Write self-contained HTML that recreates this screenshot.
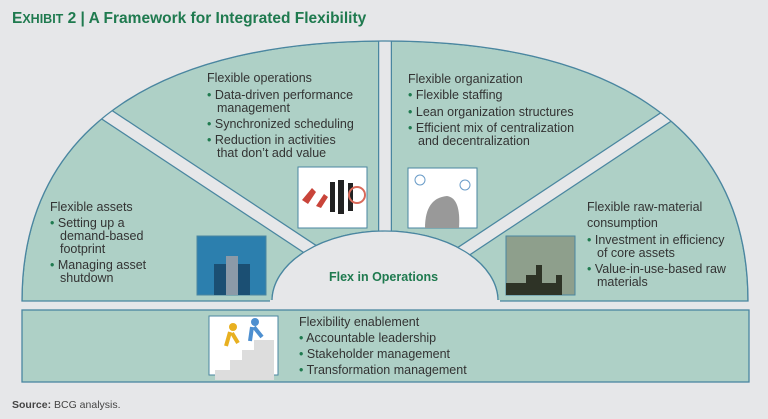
<!DOCTYPE html>
<html><head><meta charset="utf-8"><style>
html,body{margin:0;padding:0;background:#e6e7e9;}
body{width:768px;height:419px;overflow:hidden;position:relative;font-family:"Liberation Sans",sans-serif;}
svg{position:absolute;left:0;top:0;}
.t{font-family:"Liberation Sans",sans-serif;font-size:12.5px;fill:#333;}
.b{fill:#1f7a4f;}
</style></head><body>
<svg width="768" height="419" viewBox="0 0 768 419">
<defs><clipPath id="c"><rect x="0" y="0" width="768" height="301"/></clipPath></defs>
<path d="M22,301 C22,120 170,41 385,41 C600,41 748,120 748,301 L498,301 A113,70 0 0 0 272,301 Z" fill="#aed0c6" stroke="#4a86a0" stroke-width="1.3"/>
<g clip-path="url(#c)" stroke-linecap="butt">
<line x1="385" y1="20" x2="385" y2="250" stroke="#4a86a0" stroke-width="14"/>
<line x1="385" y1="20" x2="385" y2="250" stroke="#e6e7e9" stroke-width="11.5"/>
<line x1="80" y1="97" x2="322" y2="257" stroke="#4a86a0" stroke-width="14"/>
<line x1="80" y1="97" x2="322" y2="257" stroke="#e6e7e9" stroke-width="11.5"/>
<line x1="690" y1="101" x2="452" y2="259" stroke="#4a86a0" stroke-width="14"/>
<line x1="690" y1="101" x2="452" y2="259" stroke="#e6e7e9" stroke-width="11.5"/>
</g>
<path d="M0,0 H768 V301 H748 C748,120 600,41 385,41 C170,41 22,120 22,301 H0 Z" fill="#e6e7e9"/>
<path d="M22,301 C22,120 170,41 385,41 C600,41 748,120 748,301" fill="none" stroke="#4a86a0" stroke-width="1.3"/>
<path d="M498,301 A113,70 0 0 0 272,301 Z" fill="#e6e7e9" stroke="#4a86a0" stroke-width="1.3"/>
<line x1="270" y1="301" x2="500" y2="301" stroke="#e6e7e9" stroke-width="2"/>
<rect x="22" y="310" width="727" height="72" fill="#aed0c6" stroke="#4a86a0" stroke-width="1.3"/>

<rect x="298" y="167" width="69" height="61" fill="#fff" stroke="#4a86a0"/>
<path d="M302,200 l10,-12 l4,4 l-8,12z M316,206 l8,-12 l4,3 l-7,11z" fill="#c9443a"/>
<rect x="330" y="182" width="5" height="30" fill="#222"/><rect x="338" y="180" width="6" height="34" fill="#222"/><rect x="348" y="183" width="5" height="28" fill="#222"/>
<circle cx="357" cy="195" r="8" fill="none" stroke="#d96a5a" stroke-width="2"/>
<rect x="408" y="168" width="69" height="60" fill="#fff" stroke="#4a86a0"/>
<path d="M425,228 q0,-30 22,-32 q14,2 12,32z" fill="#999"/><circle cx="420" cy="180" r="5" fill="none" stroke="#6a9cc8"/><circle cx="465" cy="185" r="5" fill="none" stroke="#6a9cc8"/>
<rect x="197" y="236" width="69" height="59" fill="#2c7fae" stroke="#4a86a0"/>
<rect x="214" y="264" width="36" height="31" fill="#1b4f73"/><rect x="226" y="256" width="12" height="39" fill="#8b9aa8"/>
<rect x="506" y="236" width="69" height="59" fill="#8e9f8c" stroke="#4a86a0"/>
<path d="M506,295 v-12 h20 v-8 h10 v-10 h6 v18 h14 v-8 h6 v20z" fill="#2e3326"/>
<rect x="209" y="316" width="69" height="59" fill="#fff" stroke="#4a86a0"/>
<path d="M215,370 h15 v-10 h12 v-10 h12 v-10 h20 v40 h-59z" fill="#ddd"/>
<circle cx="233" cy="327" r="4" fill="#e8b020"/><path d="M230,332 l-4,14 M232,333 l6,10" stroke="#e8b020" stroke-width="4"/>
<circle cx="255" cy="322" r="4" fill="#4d8fd0"/><path d="M252,327 l-2,14 M254,327 l8,10" stroke="#4d8fd0" stroke-width="4"/>

<text x="12" y="23" font-family="Liberation Sans" font-weight="bold" font-size="15.5" fill="#1f7a4f">E<tspan font-size="12.5">XHIBIT</tspan> 2 | A Framework for Integrated Flexibility</text>

<text class="t" x="207" y="82">Flexible operations</text>
<text class="t" x="207" y="99"><tspan class="b">•</tspan> Data-driven performance</text>
<text class="t" x="217" y="112">management</text>
<text class="t" x="207" y="128"><tspan class="b">•</tspan> Synchronized scheduling</text>
<text class="t" x="207" y="144"><tspan class="b">•</tspan> Reduction in activities</text>
<text class="t" x="217" y="157">that don’t add value</text>

<text class="t" x="408" y="83">Flexible organization</text>
<text class="t" x="408" y="99"><tspan class="b">•</tspan> Flexible staffing</text>
<text class="t" x="408" y="116"><tspan class="b">•</tspan> Lean organization structures</text>
<text class="t" x="408" y="132"><tspan class="b">•</tspan> Efficient mix of centralization</text>
<text class="t" x="418" y="145">and decentralization</text>

<text class="t" x="50" y="211">Flexible assets</text>
<text class="t" x="50" y="227"><tspan class="b">•</tspan> Setting up a</text>
<text class="t" x="60" y="240">demand-based</text>
<text class="t" x="60" y="253">footprint</text>
<text class="t" x="50" y="269"><tspan class="b">•</tspan> Managing asset</text>
<text class="t" x="60" y="282">shutdown</text>

<text class="t" x="587" y="211">Flexible raw-material</text>
<text class="t" x="587" y="227">consumption</text>
<text class="t" x="587" y="244"><tspan class="b">•</tspan> Investment in efficiency</text>
<text class="t" x="597" y="257">of core assets</text>
<text class="t" x="587" y="273"><tspan class="b">•</tspan> Value-in-use-based raw</text>
<text class="t" x="597" y="286">materials</text>

<text x="329" y="281" font-family="Liberation Sans" font-weight="bold" font-size="12.5" fill="#1f7a4f">Flex in Operations</text>

<text class="t" x="299" y="326">Flexibility enablement</text>
<text class="t" x="299" y="342"><tspan class="b">•</tspan> Accountable leadership</text>
<text class="t" x="299" y="358"><tspan class="b">•</tspan> Stakeholder management</text>
<text class="t" x="299" y="374"><tspan class="b">•</tspan> Transformation management</text>

<text x="12" y="408" font-family="Liberation Sans" font-size="10.5" fill="#444"><tspan font-weight="bold">Source:</tspan> BCG analysis.</text>
</svg>
</body></html>
